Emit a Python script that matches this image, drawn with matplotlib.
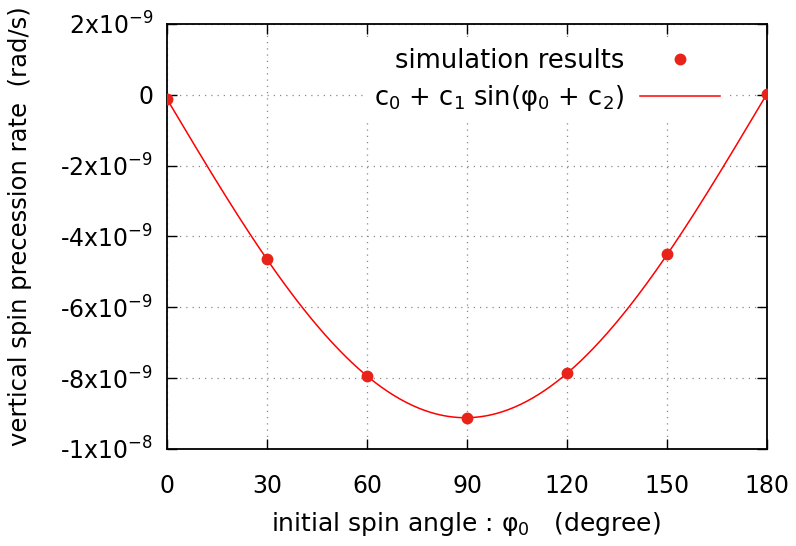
import numpy as np
import matplotlib.pyplot as plt

# simulation data
angle_deg = [0, 30, 60, 90, 120, 150, 180]
rate = [-0.12e-9, -4.64e-9, -7.94e-9, -9.13e-9, -7.86e-9, -4.50e-9, 0.02e-9]

x_ticks = [0, 30, 60, 90, 120, 150, 180]
y_ticks = [2e-9, 0, -2e-9, -4e-9, -6e-9, -8e-9, -1e-8]
y_tick_labels = ["2x10$^{-9}$", "0", "-2x10$^{-9}$", "-4x10$^{-9}$",
                 "-6x10$^{-9}$", "-8x10$^{-9}$", "-1x10$^{-8}$"]

# fit c0 + c1 sin(phi + c2)  ->  a + b sin(phi) + c cos(phi)
phi = np.radians(angle_deg)
A = np.column_stack([np.ones_like(phi), np.sin(phi), np.cos(phi)])
coef, *_ = np.linalg.lstsq(A, np.array(rate), rcond=None)
xf = np.linspace(0, 180, 400)
pf = np.radians(xf)
yf = coef[0] + coef[1] * np.sin(pf) + coef[2] * np.cos(pf)

plt.rcParams["font.family"] = "DejaVu Sans"
plt.rcParams["mathtext.default"] = "regular"

fig = plt.figure(figsize=(7.96, 5.46), dpi=100)
ax = fig.add_axes([0.2098, 0.1777, 0.7538, 0.7784])

ax.plot(angle_deg, rate, "o", color="#e8231a", markersize=7.5, zorder=4,
        label="simulation results")
ax.plot(xf, yf, "-", color="red", lw=1.1, zorder=3,
        label="c$_0$ + c$_1$ sin(φ$_0$ + c$_2$)")

ax.set_xlim(0, 180)
ax.set_ylim(-1e-8, 2e-9)
ax.set_xticks(x_ticks)
ax.set_yticks(y_ticks)
ax.set_yticklabels(y_tick_labels)
ax.tick_params(direction="in", length=7, width=1, labelsize=17,
               top=True, right=True)
ax.tick_params(axis="x", pad=18)
ax.tick_params(axis="y", pad=10)
for s in ax.spines.values():
    s.set_linewidth(1.3)
ax.grid(True, color="#888888", linestyle=(0, (1, 4)), linewidth=0.9)

ax.set_xlabel("initial spin angle : φ$_0$   (degree)", fontsize=18, va="center")
ax.set_ylabel("vertical spin precession rate  (rad/s)", fontsize=17.5, va="center")
ax.xaxis.set_label_coords(0.498, -0.176)
ax.yaxis.set_label_coords(-0.245, 0.525)

leg = ax.legend(loc="upper right", bbox_to_anchor=(0.938, 0.968),
                markerfirst=False, fontsize=18.5,
                frameon=True, fancybox=False, edgecolor="none",
                facecolor="white", framealpha=1, handlelength=3.1,
                borderaxespad=0, borderpad=0.4, labelspacing=0.35,
                handletextpad=0.62)

fig.savefig("out.png", dpi=100)
